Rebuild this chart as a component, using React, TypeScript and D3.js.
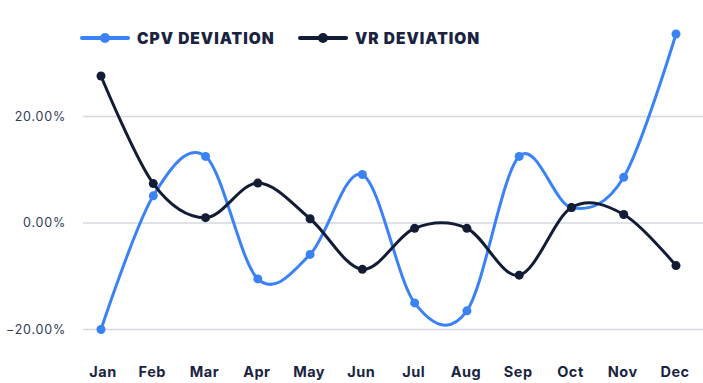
import React from "react";
import * as d3 from "d3";

const months = ["Jan", "Feb", "Mar", "Apr", "May", "Jun", "Jul", "Aug", "Sep", "Oct", "Nov", "Dec"];
const cpvDeviation = [-20.0, 5.1, 12.5, -10.5, -5.9, 9.1, -15.0, -16.5, 12.5, 2.9, 8.6, 35.5];
const vrDeviation = [27.6, 7.4, 1.0, 7.5, 0.8, -8.7, -1.0, -1.0, -9.8, 2.9, 1.6, -8.0];
const yTicks = [-20, 0, 20];

const W = 703;
const H = 383;
const BLUE = "#3b82f6";
const NAVY = "#131c35";

export default function App() {
  const x = d3.scalePoint<string>().domain(months).range([101, 676]);
  const y = d3.scaleLinear().domain([-20, 20]).range([329.5, 116.5]);
  const line = d3
    .line<number>()
    .x((_, i) => x(months[i]) as number)
    .y((d) => y(d))
    .curve(d3.curveCardinal.tension(0));

  const series = [
    { name: "CPV DEVIATION", values: cpvDeviation, color: BLUE },
    { name: "VR DEVIATION", values: vrDeviation, color: NAVY },
  ];
  const legendX = [82, 300];

  return (
    <svg
      width={W}
      height={H}
      style={{ position: "absolute", left: 0, top: 0, fontFamily: "Inter, 'Noto Sans', sans-serif" }}
    >
      <rect width={W} height={H} fill="#fff" />
      {yTicks.map((t) => (
        <g key={t}>
          <line x1={83} x2={W} y1={y(t)} y2={y(t)} stroke="#d5d8de" strokeWidth={1.5} />
          <text
            x={66}
            y={y(t)}
            dy="0.35em"
            textAnchor="end"
            fontSize={12.5}
            letterSpacing={0.8}
            fill="#2f3b57"
          >
            {d3.format(".2f")(t) + "%"}
          </text>
        </g>
      ))}
      {months.map((m, i) => (
        <text
          key={m}
          x={i === 0 ? 103 : (x(m) as number) - 1}
          y={372}
          dy="0.36em"
          textAnchor="middle"
          fontSize={14.5}
          fontWeight={700}
          letterSpacing={0.5}
          fill="#1a2440"
        >
          {m}
        </text>
      ))}
      {series.map((s) => (
        <g key={s.name}>
          <path d={line(s.values) || ""} fill="none" stroke={s.color} strokeWidth={3} />
          {s.values.map((v, i) => (
            <circle key={i} cx={x(months[i]) as number} cy={y(v)} r={4.5} fill={s.color} />
          ))}
        </g>
      ))}
      {series.map((s, i) => (
        <g key={"lg" + s.name} transform={`translate(${legendX[i]},38)`}>
          <line x1={0} x2={46} y1={0} y2={0} stroke={s.color} strokeWidth={4} strokeLinecap="round" />
          <circle cx={23} cy={0} r={5} fill={s.color} />
          <text
            x={55}
            y={0}
            dy="0.36em"
            fontSize={15.5}
            fontWeight={900}
            letterSpacing={1}
            fill="#1a2440"
          >
            {s.name}
          </text>
        </g>
      ))}
    </svg>
  );
}
